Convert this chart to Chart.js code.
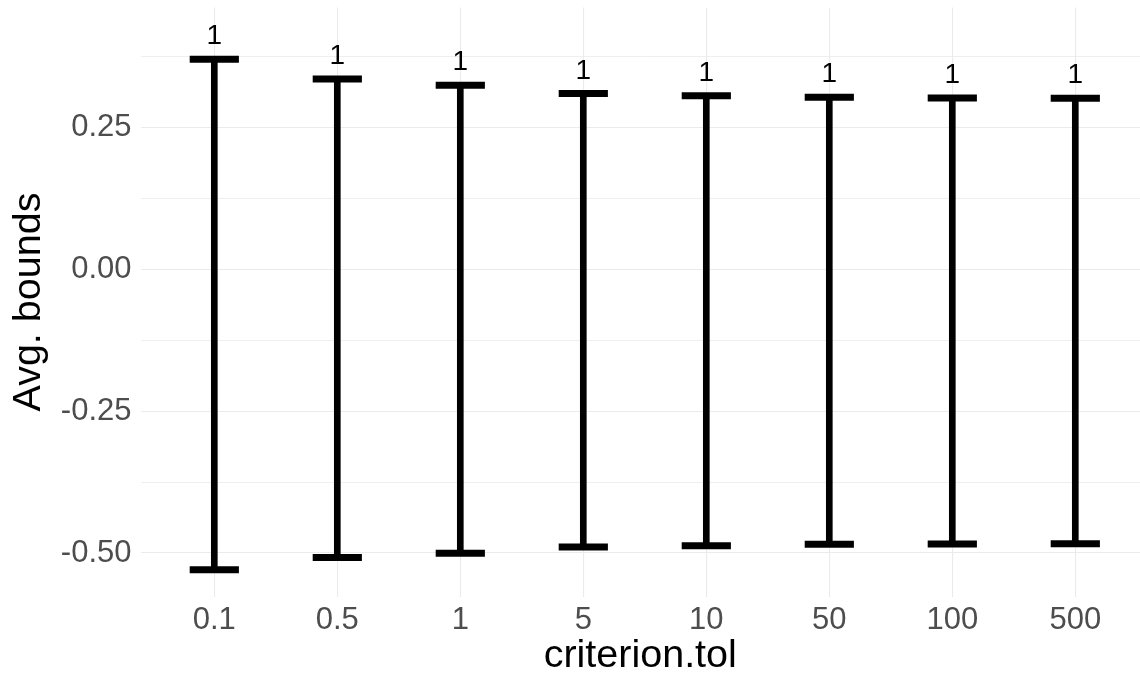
<!DOCTYPE html>
<html>
<head>
<meta charset="utf-8">
<script src="https://cdn.jsdelivr.net/npm/chart.js@4"></script>
<style>
html,body{margin:0;padding:0;background:#fff;overflow:hidden;}
#wrap{width:1140px;height:677px;position:relative;}
</style>
</head>
<body>
<div id="wrap"><canvas id="c"></canvas></div>
<script>
const categories = ['0.1', '0.5', '1', '5', '10', '50', '100', '500'];
const upperBounds = [0.3707, 0.3360, 0.3249, 0.3104, 0.3066, 0.3037, 0.3025, 0.3020];
const lowerBounds = [-0.5295, -0.5080, -0.5005, -0.4894, -0.4870, -0.4847, -0.4840, -0.4836];
const barLabels = ['1', '1', '1', '1', '1', '1', '1', '1'];
const yMajorTicks = [-0.50, -0.25, 0.00, 0.25];
const yMinorTicks = [-0.375, -0.125, 0.125, 0.375];
const xTitle = 'criterion.tol';
const yTitle = 'Avg. bounds';

const FONT = "'Liberation Sans', Arial, Helvetica, sans-serif";

const labelPlugin = {
  id: 'barLabels',
  afterDatasetsDraw(chart) {
    const {ctx, scales} = chart;
    ctx.save();
    ctx.fillStyle = '#000';
    ctx.font = '28px ' + FONT;
    ctx.textAlign = 'center';
    ctx.textBaseline = 'alphabetic';
    categories.forEach((c, i) => {
      const x = scales.x.getPixelForValue(i + 1);
      const y = scales.y.getPixelForValue(upperBounds[i]);
      ctx.fillText(barLabels[i], x, y - 25 + 0.358 * 28);
    });
    ctx.restore();
  }
};

const isMajor = (v) => yMajorTicks.some(t => Math.abs(t - v) < 1e-9);

new Chart(document.getElementById('c'), {
  type: 'bar',
  data: {
    datasets: [
      {
        type: 'bar',
        data: categories.map((c, i) => ({x: i + 1, y: [lowerBounds[i], upperBounds[i]]})),
        backgroundColor: '#000',
        borderWidth: 0,
        barThickness: 6,
        order: 2
      },
      {
        type: 'line',
        data: categories.map((c, i) => ({x: i + 1, y: upperBounds[i]})),
        showLine: false,
        pointStyle: 'line',
        pointRadius: 24.6,
        pointHoverRadius: 24.6,
        pointBorderWidth: 7,
        borderColor: '#000',
        backgroundColor: '#000',
        clip: false,
        order: 1
      },
      {
        type: 'line',
        data: categories.map((c, i) => ({x: i + 1, y: lowerBounds[i]})),
        showLine: false,
        pointStyle: 'line',
        pointRadius: 24.6,
        pointHoverRadius: 24.6,
        pointBorderWidth: 7,
        borderColor: '#000',
        backgroundColor: '#000',
        clip: false,
        order: 1
      }
    ]
  },
  options: {
    responsive: true,
    maintainAspectRatio: false,
    animation: false,
    events: [],
    layout: {autoPadding: false, padding: {top: 7.6, right: 0, left: 0, bottom: 0}},
    plugins: {legend: {display: false}, tooltip: {enabled: false}},
    scales: {
      x: {
        type: 'linear',
        min: 0.4,
        max: 8.526,
        offset: false,
        afterBuildTicks(scale) {
          scale.ticks = categories.map((c, i) => ({value: i + 1}));
        },
        afterFit(scale) { scale.height = 80.5; },
        ticks: {
          callback: (v) => categories[Math.round(v) - 1] ?? '',
          color: '#4D4D4D',
          font: {family: FONT, size: 31},
          padding: 5,
          maxRotation: 0,
          autoSkip: false
        },
        grid: {color: '#EBEBEB', lineWidth: 1.1, drawTicks: false, offset: false},
        border: {display: false},
        title: {
          display: true,
          text: xTitle,
          color: '#000',
          font: {family: FONT, size: 39.5, lineHeight: 1},
          padding: {top: 0, bottom: 1}
        }
      },
      y: {
        type: 'linear',
        min: -0.5767,
        max: 0.4619,
        afterBuildTicks(scale) {
          scale.ticks = yMajorTicks.concat(yMinorTicks).sort((a, b) => a - b).map(v => ({value: v}));
        },
        afterFit(scale) { scale.width = 140.5; scale.paddingTop = 0; scale.paddingBottom = 0; },
        ticks: {
          callback: (v) => isMajor(v) ? v.toFixed(2) : '',
          color: '#4D4D4D',
          font: {family: FONT, size: 31},
          padding: 9,
          autoSkip: false
        },
        grid: {
          color: '#EBEBEB',
          lineWidth: (ctx) => isMajor(ctx.tick.value) ? 1.1 : 0.8,
          drawTicks: false
        },
        border: {display: false},
        title: {
          display: true,
          text: yTitle,
          color: '#000',
          font: {family: FONT, size: 39.5, lineHeight: 1},
          padding: {top: 9, bottom: 0}
        }
      }
    }
  },
  plugins: [labelPlugin]
});
</script>
</body>
</html>
